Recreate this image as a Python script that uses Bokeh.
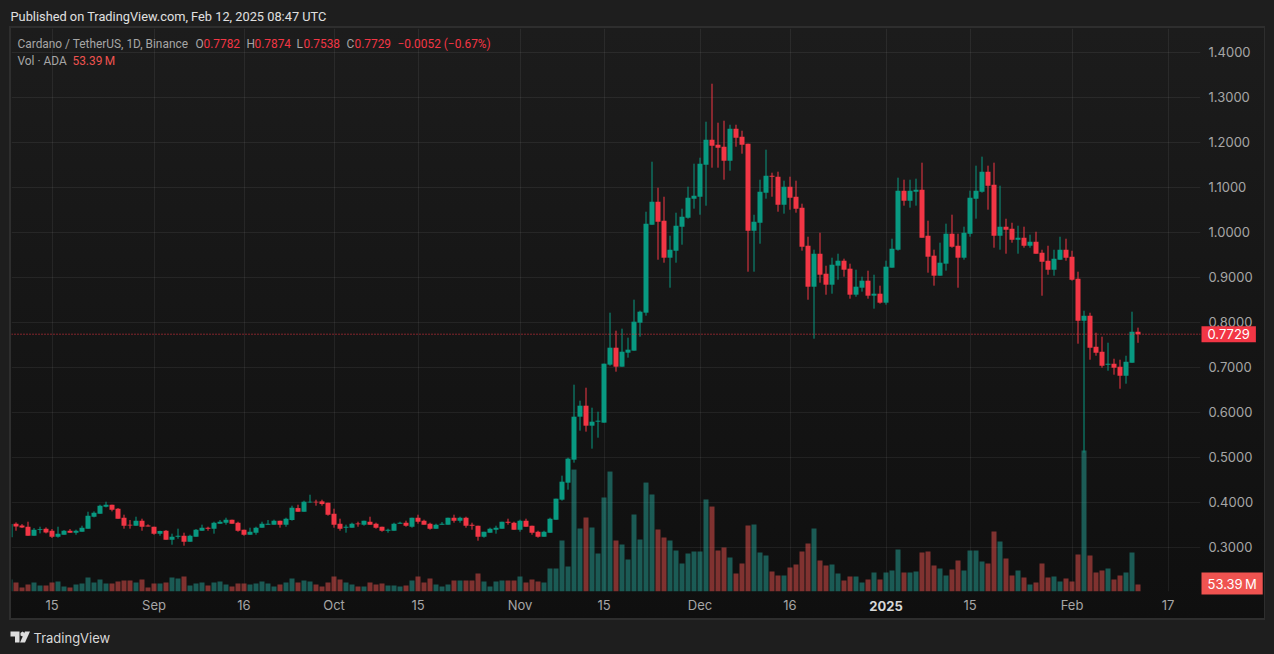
from bokeh.plotting import figure
from bokeh.embed import file_html
from bokeh.resources import INLINE
from bokeh.models import (Range1d, FixedTicker, PrintfTickFormatter, Label, Span,
                          ColumnDataSource, PolyAnnotation)

# Daily ADA/USDT candles, 8 Aug 2024 (index 0) to 12 Feb 2025 (index 188)
opens = [
.3214,.3518,.3480,.3451,.3251,.3385,.3407,.3362,.3229,.3273,
.3362,.3318,.3340,.3407,.3673,.3740,.3895,.3940,.3851,.3651,
.3496,.3473,.3585,.3480,.3451,.3296,.3362,.3162,.3229,.3251,
.3118,.3229,.3362,.3429,.3407,.3518,.3540,.3607,.3540,.3385,
.3273,.3318,.3429,.3496,.3496,.3585,.3496,.3599,.3865,.3784,
.3991,.4006,.4014,.3984,.3740,.3518,.3429,.3429,.3525,.3496,
.3562,.3518,.3451,.3362,.3362,.3518,.3540,.3451,.3651,.3585,
.3518,.3407,.3496,.3496,.3651,.3585,.3651,.3496,.3473,.3229,
.3318,.3385,.3407,.3562,.3540,.3385,.3585,.3473,.3340,.3229,
.3318,.3607,.4052,.4429,.4941,.5896,.6140,.5696,.5785,.5763,
.7052,.7429,.7007,.7318,.7363,.7985,.8207,1.0162,1.0673,1.0251,
.9429,.9584,1.0118,1.0318,1.0740,1.0784,1.1495,1.2051,1.1940,1.1895,
1.1584,1.2295,1.2118,1.1962,1.0029,1.0207,1.0873,1.1251,1.1229,1.0607,
1.1007,1.0784,1.0540,.9695,.8784,.9518,.9073,.8829,.9251,.9362,
.9185,.8607,.8762,.8918,.8585,.8629,.8429,.9207,.9607,1.0918,
1.0696,1.0896,1.0940,.9918,.9474,.9029,.9296,.9962,.9696,.9429,
.9962,1.0740,1.0896,1.1340,1.1051,.9918,1.0118,1.0073,.9829,.9873,
.9695,.9784,.9540,.9362,.9162,.9384,.9606,.9451,.8962,.8029,
.8140,.7451,.7340,.7051,.7073,.7006,.6806,.7095,.7782]
highs = [
.3510,.3547,.3510,.3562,.3421,.3451,.3436,.3399,.3451,.3377,
.3399,.3385,.3473,.3784,.3791,.3940,.4006,.3940,.3865,.3718,
.3599,.3673,.3629,.3503,.3451,.3362,.3377,.3296,.3407,.3318,
.3273,.3399,.3496,.3451,.3562,.3599,.3651,.3607,.3562,.3385,
.3429,.3451,.3562,.3599,.3607,.3585,.3651,.3918,.3940,.4029,
.4162,.4051,.4051,.3984,.3851,.3629,.3496,.3540,.3562,.3585,
.3673,.3540,.3451,.3407,.3540,.3562,.3585,.3651,.3718,.3607,
.3540,.3518,.3555,.3651,.3718,.3673,.3673,.3540,.3473,.3340,
.3429,.3473,.3562,.3629,.3562,.3607,.3629,.3473,.3362,.3362,
.3651,.4074,.4585,.4985,.6607,.6252,.6540,.6096,.6007,.7074,
.8207,.7807,.7852,.7652,.8496,.8252,1.0451,1.1562,1.0984,1.0784,
.9918,1.0429,1.0518,1.1007,1.1518,1.1651,1.2451,1.3295,1.2429,1.2473,
1.2384,1.2384,1.2251,1.1962,1.0384,1.1162,1.1829,1.1318,1.1340,1.1140,
1.1229,1.1140,1.0629,.9895,.9607,.9984,.9251,.9429,.9518,.9407,
.9296,.9162,.9007,.9140,.9051,.8807,.9363,.9851,1.1207,1.1162,
1.1162,1.1185,1.1540,1.0251,.9607,.9763,1.0185,1.0385,.9962,1.0118,
1.0918,1.1474,1.1674,1.1474,1.1540,1.1029,1.0295,1.0206,1.0140,1.0118,
.9940,1.0006,.9606,.9695,.9606,.9895,.9851,.9584,.9118,.8251,
.8206,.7762,.7673,.7540,.7184,.7162,.7251,.8229,.7874]
lows = [
.3214,.3362,.3421,.3251,.3251,.3302,.3302,.3199,.3207,.3273,
.3318,.3273,.3340,.3407,.3658,.3740,.3880,.3791,.3629,.3407,
.3407,.3473,.3362,.3458,.3273,.3251,.3162,.3051,.3184,.3029,
.3118,.3229,.3362,.3362,.3296,.3518,.3496,.3518,.3340,.3251,
.3273,.3273,.3429,.3496,.3496,.3429,.3451,.3585,.3784,.3784,
.3984,.3918,.3918,.3696,.3429,.3362,.3318,.3429,.3451,.3473,
.3496,.3407,.3340,.3318,.3362,.3518,.3451,.3429,.3518,.3496,
.3385,.3407,.3496,.3496,.3540,.3540,.3429,.3385,.3140,.3207,
.3318,.3296,.3407,.3496,.3385,.3340,.3451,.3273,.3207,.3229,
.3318,.3607,.4029,.4274,.4874,.5585,.5563,.5185,.5429,.5763,
.7029,.6896,.7007,.7207,.7363,.7674,.8140,1.0162,.9384,.9318,
.8762,.9318,.9718,1.0296,1.0518,1.0384,1.0584,1.1429,1.1429,1.1162,
1.1362,1.1895,1.1740,.9118,.9118,.9740,1.0740,1.0784,1.0451,1.0407,
1.0495,1.0429,.9584,.8495,.7629,.8873,.8606,.8629,.8940,.9007,
.8518,.8562,.8674,.8518,.8296,.8407,.8385,.9207,.9585,1.0585,
1.0540,1.0585,.9874,.9096,.8807,.9029,.9140,.9651,.8762,.9385,
.9896,1.0296,1.0874,1.0496,.9651,.9607,.9518,.9762,.9518,.9651,
.9651,.9518,.8584,.9051,.9029,.9384,.9362,.8918,.7518,.5096,
.7162,.7251,.6984,.6917,.6829,.6517,.6629,.7095,.7538]
closes = [
.3510,.3458,.3436,.3251,.3385,.3399,.3325,.3229,.3296,.3362,
.3318,.3362,.3429,.3696,.3762,.3918,.3940,.3829,.3629,.3473,
.3480,.3585,.3451,.3458,.3296,.3355,.3162,.3229,.3251,.3118,
.3251,.3385,.3429,.3407,.3540,.3562,.3607,.3518,.3362,.3273,
.3340,.3429,.3518,.3518,.3585,.3496,.3629,.3873,.3784,.4006,
.4006,.3991,.3954,.3718,.3496,.3407,.3451,.3518,.3503,.3585,
.3496,.3429,.3362,.3385,.3518,.3540,.3473,.3651,.3562,.3496,
.3407,.3496,.3518,.3651,.3585,.3651,.3473,.3473,.3229,.3340,
.3407,.3429,.3562,.3540,.3385,.3585,.3451,.3318,.3229,.3340,
.3629,.4074,.4452,.4963,.5896,.6140,.5696,.5785,.5807,.7074,
.7429,.7007,.7340,.7385,.8007,.8229,1.0184,1.0673,1.0229,.9429,
.9607,1.0140,1.0340,1.0762,1.0807,1.1518,1.2051,1.1918,1.1873,1.1584,
1.2295,1.2095,1.1940,1.0029,1.0229,1.0895,1.1251,1.1229,1.0607,1.1007,
1.0762,1.0518,.9673,.8784,.9518,.9051,.8829,.9273,.9362,.9162,
.8607,.8785,.8918,.8585,.8629,.8429,.9229,.9629,1.0918,1.0696,
1.0918,1.0940,.9874,.9451,.9029,.9318,.9962,.9674,.9429,.9985,
1.0763,1.0918,1.1340,1.1029,.9918,1.0118,1.0051,.9829,.9873,.9695,
.9784,.9518,.9340,.9162,.9406,.9606,.9429,.8940,.8029,.8140,
.7429,.7318,.7029,.7073,.6984,.6806,.7118,.7782,.7729]
# Volume in millions of ADA
volumes = [
92,69,31,53,69,46,46,69,76,38,31,53,61,107,69,92,61,61,76,84,
84,69,92,31,61,61,69,107,99,114,46,61,69,46,69,76,53,38,61,61,
53,61,76,61,38,53,69,99,69,84,76,53,38,69,114,92,69,53,38,38,
69,53,61,46,46,38,46,84,114,69,99,53,38,53,84,84,84,84,137,76,
38,76,84,84,84,114,69,92,76,69,175,175,389,191,930,480,564,488,290,717,
915,389,358,244,587,397,831,740,473,412,389,313,214,290,305,305,702,648,313,336,
259,137,214,503,511,297,275,153,122,122,183,206,305,366,480,236,198,206,137,84,
114,114,69,92,145,92,145,160,320,145,145,153,297,305,198,175,122,168,236,160,
313,313,229,214,458,381,252,122,160,107,53,69,214,107,114,76,99,76,282,1075,
275,145,160,175,92,122,145,297,53.39]

price_ticks = [0.3,0.4,0.5,0.6,0.7,0.8,0.9,1.0,1.1,1.2,1.3,1.4]
tick_days = [7,24,39,54,68,85,99,115,130,146,160,177,193]
tick_labels = ["15","Sep","16","Oct","15","Nov","15","Dec","16"," ","15","Feb","17"]
year_day = 146
year_label = "2025"
last_close = closes[-1]
last_volume = volumes[-1]

assert len(opens)==len(highs)==len(lows)==len(closes)==len(volumes)==189, (len(opens),len(highs),len(lows),len(closes),len(volumes))

GREEN = "#089981"; RED = "#f23645"
VGREEN = "#26a69a"; VRED = "#ef5350"
FONT = "Inter"; HFONT = "Roboto"; GREY = "#a6a6a6"

x = list(range(len(closes)))
up = [c >= o for o, c in zip(opens, closes)]
src = ColumnDataSource(dict(
    x=x, o=opens, h=highs, l=lows, c=closes, v=volumes,
    top=[max(a, b) for a, b in zip(opens, closes)],
    bot=[min(a, b) for a, b in zip(opens, closes)],
    col=[GREEN if u else RED for u in up],
    vcol=[VGREEN if u else VRED for u in up],
))

VOL_PER_PX = last_volume / 7

p = figure(width=1274, height=654, output_backend="svg", toolbar_location=None,
           x_range=Range1d(0.25, 0.25 + 1189/6),
           y_range=Range1d(1 - 359.5/450, 1 + 203.5/450),
           y_axis_location="right",
           min_border_left=11, min_border_right=74, min_border_top=28, min_border_bottom=63,
           border_fill_alpha=0, background_fill_alpha=0, outline_line_alpha=0)
p.styles = {
    "background-color": "#1e1e1e",
    "background-image": "linear-gradient(#1c1c1c,#0f0f0f), linear-gradient(#2e2e2e,#2e2e2e)",
    "background-position": "11px 28px, 9px 26px",
    "background-size": "1253px 590px, 1256px 594px",
    "background-repeat": "no-repeat",
}
p.extra_y_ranges = {"vol": Range1d(0, 563 * VOL_PER_PX)}

p.xaxis.ticker = FixedTicker(ticks=tick_days)
p.xaxis.major_label_overrides = {d: t for d, t in zip(tick_days, tick_labels)}
p.yaxis.ticker = FixedTicker(ticks=price_ticks)
p.yaxis.formatter = PrintfTickFormatter(format="%.4f")
for ax in (p.xaxis, p.yaxis):
    ax.axis_line_color = None
    ax.major_tick_line_color = None
    ax.minor_tick_line_color = None
    ax.major_tick_out = 0
    ax.minor_tick_out = 0
    ax.major_label_text_color = GREY
    ax.major_label_text_font = FONT
    ax.major_label_text_font_size = "13px"
p.yaxis.major_label_standoff = 8
p.xaxis.major_label_standoff = 5
p.xgrid.ticker = FixedTicker(ticks=tick_days)
p.ygrid.ticker = FixedTicker(ticks=price_ticks)
p.grid.grid_line_color = "#f2f2f2"
p.grid.grid_line_alpha = 0.07

p.vbar("x", 5/6, 0, "v", source=src, fill_color="vcol", fill_alpha=0.5, line_color=None, y_range_name="vol")
p.segment("x", "l", "x", "h", source=src, line_color="col", line_width=1)
p.vbar("x", 5/6, "bot", "top", source=src, fill_color="col", line_color=None)
p.add_layout(Span(location=last_close, dimension="width", line_color=RED, line_dash="1 2", line_width=1))

# Transparent page-sized overlay that shares the same day and price scales,
# so that annotations outside the plot frame are not clipped.
ov = figure(width=1274, height=654, output_backend="svg", toolbar_location=None,
            x_range=Range1d(-9.5/6, (1274 - 9.5)/6),
            y_range=Range1d(1 - (654 - 231.5)/450, 1 + 231.5/450),
            x_axis_location=None, y_axis_location=None,
            min_border_left=0, min_border_right=0, min_border_top=0, min_border_bottom=0,
            border_fill_alpha=0, background_fill_alpha=0, outline_line_alpha=0)
ov.grid.visible = False
ov.extra_y_ranges = {"vol": Range1d(-(654 - 591) * VOL_PER_PX, 591 * VOL_PER_PX)}
ov.styles = {"position": "absolute", "left": "0px", "top": "0px", "background": "transparent"}

def fx(X): return X
def fy(Y): return 654 - Y

def text(s, X, Y, color=GREY, size="11.9px", style="normal", font=HFONT):
    ov.add_layout(Label(x=fx(X), y=fy(Y), x_units="screen", y_units="screen", text=s,
                        text_color=color, text_font=font, text_font_size=size, text_font_style=style,
                        text_align="left", text_baseline="middle"))

text("Published on TradingView.com, Feb 12, 2025 08:47 UTC", 10, 16, color="#e0e0e0", size="12.8px")
text("Cardano / TetherUS, 1D, Binance", 17, 43)
for s, X, c in [("O", 195, GREY), ("0.7782", 203, RED), ("H", 246, GREY), ("0.7874", 254, RED),
                ("L", 296, GREY), ("0.7538", 303, RED), ("C", 346, GREY), ("0.7729", 354, RED),
                ("\u22120.0052 (\u22120.67%)", 397, RED)]:
    text(s, X, 43, color=c)
text("Vol \u00b7 ADA", 17, 60)
text("53.39\u2009M", 72, 60, color=VRED)
text("TradingView", 33, 637, color="#d8d8d8", size="13px", font=FONT)

ov.add_layout(Label(x=year_day, y=fy(605), x_units="data", y_units="screen", text=year_label,
                    text_color="#d8d8d8", text_font=FONT, text_font_size="13px", text_font_style="bold",
                    text_align="center", text_baseline="middle"))

ov.add_layout(Label(x=fx(1201), y=last_close, x_units="screen", y_units="data", text=f"{last_close:.4f}",
                    text_color="#ffffff", text_font=FONT, text_font_size="13px", text_baseline="middle",
                    background_fill_color=RED, padding=(6, 3)))
ov.add_layout(Label(x=fx(1201), y=last_volume, x_units="screen", y_units="data", y_range_name="vol", y_offset=1,
                    text="53.39\u2009M", text_color="#ffffff", text_font=FONT, text_font_size="13px",
                    text_baseline="middle", background_fill_color=VRED, padding=(6, 3)))

# TradingView mark
for X, Y in [([10, 19, 19, 14.5, 14.5, 10], [631, 631, 642, 642, 636, 636]),
             ([24.5, 29.5, 24.5, 19.5], [631, 631, 642, 642]),
             ([20, 22, 24, 24, 22, 20], [632.5, 631, 632.5, 635, 636, 635])]:
    ov.add_layout(PolyAnnotation(xs=[fx(a) for a in X], ys=[fy(b) for b in Y], xs_units="screen", ys_units="screen",
                                 fill_color="#dddddd", fill_alpha=1, line_color=None))

html = file_html([p, ov], INLINE).replace("</head>", "<style>html,body{background:#1e1e1e}</style></head>")
open("out.html", "w").write(html)
